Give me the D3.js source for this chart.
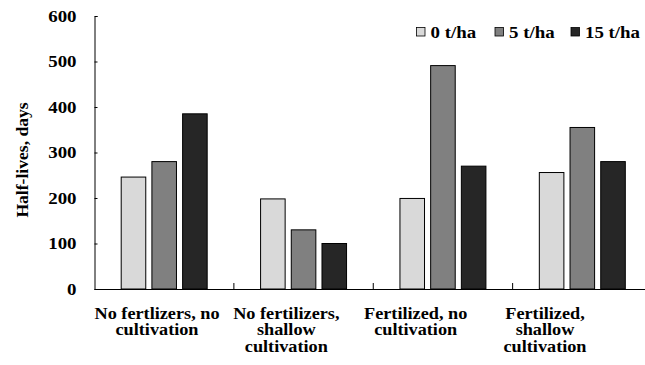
<!DOCTYPE html>
<html>
<head>
<meta charset="utf-8">
<script src="https://cdn.jsdelivr.net/npm/d3@7"></script>
<style>
  body { margin: 0; background: #fff; }
  svg text { font-family: "Liberation Serif", "Times New Roman", serif; font-weight: bold; fill: #000; }
</style>
</head>
<body>
<div class="chart"></div>
<script>
// data
const groups = ['g1', 'g2', 'g3', 'g4']
const groupLabels = [
  ['No fertlizers, no', 'cultivation'],
  ['No fertilizers,', 'shallow', 'cultivation'],
  ['Fertilized, no', 'cultivation'],
  ['Fertilized,', 'shallow', 'cultivation']
]
const seriesNames = ['0 t/ha', '5 t/ha', '15 t/ha']
const seriesColors = ['#d9d9d9', '#808080', '#262626']
const values0 = [246, 198, 199, 256]
const values5 = [280, 130, 491, 355]
const values15 = [385, 100, 270, 280]
const yTicks = [0, 100, 200, 300, 400, 500, 600]

const allValues = [values0, values5, values15]

const W = 645, H = 365
const margin = { left: 94.5, right: 652, top: 16, bottom: 289 }
const stretch = 1.18 // the original's type is a bit wider than Liberation Serif

const svg = d3.select('.chart').append('svg')
  .attr('width', W).attr('height', H)

const x = d3.scaleBand().domain(groups).range([margin.left, margin.right])
const xs = d3.scaleBand().domain(seriesNames).range([26.7, x.bandwidth() - 26.7]).paddingInner(0.2)
const y = d3.scaleLinear().domain([0, 600]).range([margin.bottom, margin.top])
// the category texts sit a little left of the groups in the original
const xl = d3.scalePoint().domain(groups).range([157, 545])

const wideText = (sel, tx, ty, sx) => sel.attr('transform', `translate(${tx},${ty}) scale(${sx || stretch},1)`)

// bars
seriesNames.forEach((s, si) => {
  svg.append('g').selectAll('rect')
    .data(allValues[si])
    .enter()
    .append('rect')
    .attr('x', (d, i) => x(groups[i]) + xs(s))
    .attr('y', d => y(d))
    .attr('width', xs.bandwidth())
    .attr('height', d => y(0) - y(d))
    .attr('fill', seriesColors[si])
    .attr('stroke', '#000')
    .attr('stroke-width', 1)
})

// y axis, ticks inward
const yAxis = svg.append('g')
  .attr('transform', `translate(${margin.left},0)`)
  .call(d3.axisRight(y).tickValues(yTicks).tickSize(3).tickSizeOuter(3).tickFormat(''))
yAxis.select('.domain').attr('stroke', '#000')
yAxis.selectAll('line').attr('stroke', '#000')

yTicks.forEach(t => {
  svg.append('text')
    .call(wideText, 76.5, y(t))
    .attr('dy', '0.35em')
    .attr('text-anchor', 'end')
    .attr('font-size', 16)
    .text(t)
})

// x axis
svg.append('line')
  .attr('x1', margin.left).attr('x2', margin.right)
  .attr('y1', margin.bottom + 0.5).attr('y2', margin.bottom + 0.5)
  .attr('stroke', '#000')

svg.append('g').selectAll('line')
  .data(groups.slice(1))
  .enter()
  .append('line')
  .attr('x1', d => x(d)).attr('x2', d => x(d))
  .attr('y1', margin.bottom).attr('y2', margin.bottom - 6)
  .attr('stroke', '#000')

// category labels
groups.forEach((g, i) => {
  svg.append('text')
    .call(wideText, xl(g), 0, 1.14)
    .attr('text-anchor', 'middle')
    .attr('font-size', 16)
    .selectAll('tspan')
    .data(groupLabels[i])
    .enter()
    .append('tspan')
    .attr('x', 0)
    .attr('y', (d, j) => 319 + j * 16.5)
    .text(d => d)
})

// y title
svg.append('text')
  .attr('transform', 'translate(28,160) rotate(-90) scale(1.1,1)')
  .attr('text-anchor', 'middle')
  .attr('font-size', 16)
  .text('Half-lives, days')

// legend
const legendX = [416.5, 495, 571]
seriesNames.forEach((s, i) => {
  svg.append('rect')
    .attr('x', legendX[i]).attr('y', 27.5)
    .attr('width', 8.5).attr('height', 8.5)
    .attr('fill', seriesColors[i])
    .attr('stroke', '#000')
    .attr('stroke-width', 0.8)
  svg.append('text')
    .call(wideText, legendX[i] + 14, 37.5)
    .attr('font-size', 16)
    .text(s)
})
</script>
</body>
</html>
